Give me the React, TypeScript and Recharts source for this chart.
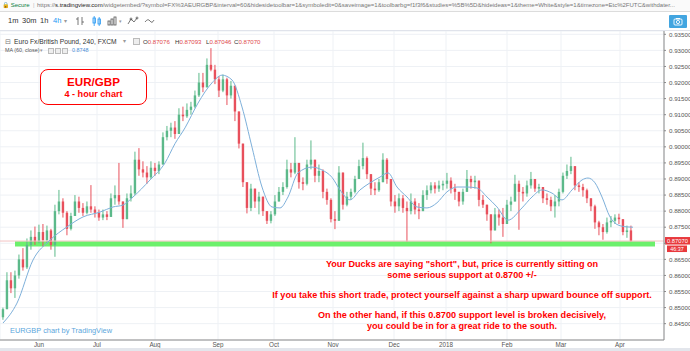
import React from 'react';
import { ComposedChart, Bar, Line, XAxis, YAxis, CartesianGrid, ReferenceArea, ReferenceLine } from 'recharts';

// ---- DATA (read from the reference picture) ----
const firstOpen = 0.847;
const closes = [
  0.8495, 0.8585, 0.856, 0.86, 0.865, 0.8625, 0.8695, 0.872, 0.8705, 0.8735,
  0.871, 0.874, 0.8695, 0.88, 0.883, 0.8795, 0.8745, 0.8785, 0.883, 0.881,
  0.8795, 0.8815, 0.8805, 0.8795, 0.878, 0.879, 0.8782, 0.884, 0.885, 0.883,
  0.8775, 0.884, 0.8855, 0.896, 0.893, 0.892, 0.8905, 0.8935, 0.8925, 0.8945,
  0.903, 0.905, 0.906, 0.904, 0.91, 0.9095, 0.9115, 0.9125, 0.916, 0.92,
  0.9185, 0.9255, 0.924, 0.921, 0.9175, 0.921, 0.916, 0.919, 0.911, 0.901,
  0.889, 0.881, 0.887, 0.883, 0.8845, 0.88, 0.877, 0.879, 0.883, 0.886,
  0.8875, 0.893, 0.892, 0.895, 0.889, 0.8885, 0.8945, 0.896, 0.891, 0.8925,
  0.886, 0.8835, 0.8775, 0.877, 0.892, 0.882, 0.8845, 0.886, 0.89, 0.894,
  0.8965, 0.8915, 0.887, 0.8865, 0.889, 0.896, 0.89, 0.883, 0.8815, 0.884,
  0.881, 0.88, 0.883, 0.8805, 0.88, 0.885, 0.8865, 0.888, 0.887, 0.888,
  0.8885, 0.8895, 0.887, 0.886, 0.883, 0.886, 0.89, 0.889, 0.8895, 0.8835,
  0.882, 0.879, 0.874, 0.879, 0.878, 0.876, 0.882, 0.883, 0.8885, 0.886,
  0.8855, 0.888, 0.89, 0.887, 0.8875, 0.884, 0.8835, 0.8815, 0.883, 0.886,
  0.891, 0.8925, 0.894, 0.888, 0.8875, 0.8865, 0.884, 0.8815, 0.8765, 0.875,
  0.8735, 0.8765, 0.877, 0.878, 0.8775, 0.8735, 0.874, 0.8707,
];
const highs = [
  0.85, 0.861, 0.861, 0.8615, 0.8665, 0.8685, 0.8715, 0.874, 0.8752, 0.8758,
  0.876, 0.8755, 0.8745, 0.882, 0.8866, 0.884, 0.88, 0.8795, 0.885, 0.8845,
  0.8825, 0.883, 0.8881, 0.8815, 0.8805, 0.8805, 0.88, 0.8855, 0.888, 0.895,
  0.883, 0.8855, 0.888, 0.8985, 0.8996, 0.8955, 0.894, 0.8955, 0.895, 0.8955,
  0.9045, 0.9065, 0.9075, 0.908, 0.912, 0.9125, 0.9135, 0.914, 0.9175, 0.923,
  0.923, 0.9275, 0.9307, 0.9255, 0.922, 0.9225, 0.9215, 0.9205, 0.918, 0.907,
  0.901, 0.888, 0.8885, 0.887, 0.886, 0.8845, 0.88, 0.88, 0.885, 0.8875,
  0.889, 0.896, 0.895, 0.903, 0.895, 0.8905, 0.896, 0.902, 0.896, 0.8945,
  0.893, 0.887, 0.884, 0.88, 0.894, 0.8905, 0.886, 0.887, 0.891, 0.896,
  0.9013, 0.897, 0.8905, 0.889, 0.89, 0.898, 0.8965, 0.8895, 0.885, 0.8855,
  0.885, 0.883, 0.8855, 0.884, 0.8825, 0.8865, 0.888, 0.889, 0.889, 0.8895,
  0.8895, 0.8919, 0.8905, 0.8885, 0.886, 0.887, 0.8928, 0.891, 0.891, 0.889,
  0.885, 0.8815, 0.879, 0.881, 0.8805, 0.881, 0.8835, 0.8845, 0.8913, 0.8895,
  0.8875, 0.8895, 0.8922, 0.89, 0.8885, 0.8875, 0.8855, 0.8845, 0.885, 0.887,
  0.892, 0.8945, 0.8969, 0.894, 0.889, 0.8885, 0.887, 0.884, 0.882, 0.877,
  0.876, 0.878, 0.8785, 0.879, 0.8792, 0.8775, 0.8755, 0.8755,
];
const lows = [
  0.8462, 0.8495, 0.8545, 0.853, 0.859, 0.8615, 0.862, 0.868, 0.8695, 0.87,
  0.869, 0.87, 0.868, 0.8658, 0.879, 0.878, 0.8725, 0.874, 0.879, 0.8795,
  0.8785, 0.879, 0.8795, 0.878, 0.877, 0.8772, 0.8772, 0.8785, 0.882, 0.882,
  0.8748, 0.879, 0.883, 0.885, 0.891, 0.8905, 0.8885, 0.89, 0.891, 0.8915,
  0.899, 0.902, 0.903, 0.9025, 0.904, 0.908, 0.909, 0.91, 0.912, 0.9155,
  0.917, 0.92, 0.9235, 0.9195, 0.9155, 0.917, 0.913, 0.915, 0.908, 0.8995,
  0.8875, 0.8793, 0.88, 0.881, 0.879, 0.8785, 0.876, 0.8762, 0.8785, 0.883,
  0.885, 0.887, 0.8905, 0.8915, 0.887, 0.8865, 0.888, 0.893, 0.889, 0.889,
  0.884, 0.882, 0.8765, 0.8744, 0.878, 0.8805, 0.8815, 0.8835, 0.8855, 0.8905,
  0.893, 0.89, 0.885, 0.885, 0.886, 0.889, 0.8885, 0.8815, 0.8795, 0.88,
  0.8795, 0.8705, 0.879, 0.879, 0.8775, 0.88, 0.8835, 0.8855, 0.8855, 0.886,
  0.8865, 0.887, 0.8855, 0.8835, 0.8815, 0.882, 0.886, 0.887, 0.887, 0.8815,
  0.881, 0.877, 0.87, 0.8745, 0.8755, 0.872, 0.876, 0.88, 0.884, 0.8742,
  0.883, 0.8845, 0.887, 0.886, 0.8855, 0.8825, 0.882, 0.88, 0.878, 0.8815,
  0.8855, 0.89, 0.8915, 0.8865, 0.886, 0.8845, 0.8825, 0.88, 0.8745, 0.8725,
  0.8711, 0.873, 0.875, 0.876, 0.876, 0.8725, 0.8717, 0.8705,
];
// MA (60, close) read at sampled bar positions
const maIndex = [
  0, 3.5, 7.5, 11.75, 16, 20, 24.25, 27.5, 30, 32.5, 36.75, 40.5, 43, 45.5, 48.75,
  52.25, 54.75, 57.25, 59.75, 62.25, 64.75, 67.25, 69.25, 71.25, 73.75, 77.25, 79.75,
  82.25, 84.25, 86.75, 89.25, 91.75, 94.25, 96.25, 98.5, 101, 103.5, 106, 108.5, 111,
  113.5, 116, 118.5, 121, 123.5, 126.25, 129.75, 132.25, 134.75, 137.25, 139.75, 142.25,
  144.75, 146.25, 148, 149.75, 151.75, 153.75, 156, 157.5,
];
const maValues = [
  0.8452, 0.8514, 0.8648, 0.871, 0.8751, 0.8782, 0.8797, 0.8813, 0.8819, 0.8844, 0.8897,
  0.895, 0.901, 0.9059, 0.9136, 0.9199, 0.9223, 0.9208, 0.9124, 0.8999, 0.8875, 0.8813,
  0.881, 0.8844, 0.8919, 0.8937, 0.8928, 0.8905, 0.8866, 0.8835, 0.8866, 0.8888, 0.8906,
  0.8919, 0.8875, 0.8844, 0.8813, 0.881, 0.8826, 0.886, 0.8875, 0.8875, 0.8872, 0.8844,
  0.8813, 0.8772, 0.881, 0.8844, 0.8866, 0.8856, 0.8835, 0.8866, 0.8897, 0.8903, 0.8888,
  0.8844, 0.8782, 0.8757, 0.8751, 0.875,
];
const monthTicks = [9, 23.5, 38, 53.75, 67.75, 82.5, 97.75, 110.75, 126, 139.5, 154.25];
const monthLabels = ['Jun', 'Jul', 'Aug', 'Sep', 'Oct', 'Nov', 'Dec', '2018', 'Feb', 'Mar', 'Apr'];
const priceTicks = [0.845, 0.85, 0.855, 0.86, 0.865, 0.87, 0.875, 0.88, 0.885, 0.89, 0.895, 0.9, 0.905, 0.91, 0.915, 0.92, 0.925, 0.93, 0.935];
const supportLow = 0.869;
const supportHigh = 0.8706;
const supportFrom = 3;
const supportTo = 163;
const lastPrice = 0.8707;
const lastPriceLabel = '0.87070';
const countdownLabel = '46:37';
const noteLines1 = ['Your Ducks are saying "short", but, price is currently sitting on', 'some serious support at 0.8700 +/-'];
const noteLine2 = 'If you take this short trade, protect yourself against a sharp upward bounce off support.';
const noteLines3 = ['On the other hand, if this 0.8700 support level is broken decisively,', 'you could be in for a great ride to the south.'];

const candles = closes.map((c, i) => {
  const open = i === 0 ? firstOpen : closes[i - 1];
  const hi = Math.max(highs[i], open, c);
  const lo = Math.min(lows[i], open, c);
  return { i, open, close: c, high: hi, low: lo, range: [lo, hi] };
});
const maData = maIndex.map((i, k) => ({ i, ma: maValues[k] }));

const UP = '#5cb98a';
const DOWN = '#e8505c';
const FONT = '"Liberation Sans", Arial, sans-serif';

function Candle(props: any) {
  const { x, y, width, height, payload } = props;
  if (!payload || x == null) return null;
  const { open, close, high, low } = payload;
  const top = Math.min(y, y + height);
  const h = Math.abs(height);
  const span = high - low || 1e-9;
  const py = (v: number) => top + ((high - v) / span) * h;
  const cx = x + width / 2;
  const color = close >= open ? UP : DOWN;
  const bTop = py(Math.max(open, close));
  const bBot = py(Math.min(open, close));
  return (
    <g>
      <line x1={cx} x2={cx} y1={top} y2={top + h} stroke={color} strokeWidth={1} />
      <rect x={cx - 1.2} y={bTop} width={2.4} height={Math.max(0.8, bBot - bTop)} fill={color} />
    </g>
  );
}

function PriceTag(props: any) {
  const vb = props.viewBox || {};
  const x = (vb.x || 0) + (vb.width || 0) + 1;
  const y = vb.y || 0;
  return (
    <g>
      <rect x={x} y={y - 4} width={25} height={7.5} fill="#e8393d" />
      <text x={x + 12.5} y={y + 1.8} textAnchor="middle" fontSize={5.8} fill="#fff" fontFamily={FONT}>{lastPriceLabel}</text>
      <rect x={x + 2} y={y + 4.5} width={20} height={6.5} fill="#e8393d" />
      <text x={x + 12} y={y + 9.6} textAnchor="middle" fontSize={5.4} fill="#fff" fontFamily={FONT}>{countdownLabel}</text>
    </g>
  );
}

function MonthTick(props: any) {
  const { x, payload } = props;
  const idx = monthTicks.indexOf(payload.value);
  return (
    <text x={x} y={346.5} textAnchor="middle" fontSize={6.3} fill="#555" fontFamily={FONT}>
      {monthLabels[idx]}
    </text>
  );
}

function PriceTick(props: any) {
  const { x, y, payload } = props;
  // the last-price tag covers the label nearest to it, as in the reference
  if (Math.abs(Number(payload.value) - lastPrice) < 0.0015) return <g />;
  return (
    <text x={x + 1} y={y + 2.2} textAnchor="start" fontSize={6.2} fill="#555" fontFamily={FONT}>
      {Number(payload.value).toFixed(5)}
    </text>
  );
}

const abs = (l: number, t: number, extra: any = {}) => ({ position: 'absolute' as const, left: l, top: t, whiteSpace: 'nowrap' as const, ...extra });

export default function App() {
  return (
    <div style={{ position: 'absolute', left: 0, top: 0, width: 690, height: 351, overflow: 'hidden', background: '#fff', fontFamily: FONT }}>
      <ComposedChart
        width={690}
        height={351}
        data={candles}
        margin={{ top: 31, right: 0, bottom: 0, left: 0 }}
        style={{ position: 'absolute', left: 0, top: 0 }}
      >
        <CartesianGrid stroke="#eef1f5" strokeWidth={1} />
        <XAxis
          dataKey="i"
          type="number"
          domain={[-0.75, 165.25]}
          ticks={monthTicks}
          height={11}
          axisLine={{ stroke: '#8a8a8a' }}
          tickLine={false}
          tick={<MonthTick />}
          interval={0}
          allowDataOverflow
        />
        <YAxis
          orientation="right"
          type="number"
          domain={[0.83992, 0.93603]}
          ticks={priceTicks}
          width={26}
          axisLine={{ stroke: '#8a8a8a' }}
          tickLine={{ stroke: '#8a8a8a' }}
          tickSize={2}
          tick={<PriceTick />}
          interval={0}
          allowDataOverflow
        />
        <ReferenceLine y={lastPrice} stroke="#f3c3c3" strokeWidth={1} label={<PriceTag />} />
        <ReferenceArea x1={supportFrom} x2={supportTo} y1={supportLow} y2={supportHigh} fill="#6cf06c" fillOpacity={1} stroke="none" />
        <Bar dataKey="range" barSize={3} shape={<Candle />} isAnimationActive={false} />
        <Line data={maData} dataKey="ma" type="monotone" dot={false} stroke="#7eb0da" strokeWidth={1} isAnimationActive={false} />
      </ComposedChart>

      {/* browser url bar */}
      <div style={abs(0, 0, { width: 690, height: 11, background: '#fafafa', borderBottom: '1px solid #dcdcdc', fontSize: 6, lineHeight: '11px', overflow: 'hidden' })}>
        <span style={abs(2, 0, { color: '#0b8043' })}>&#128274; Secure</span>
        <span style={abs(33, 0, { color: '#bbb' })}>|</span>
        <span style={abs(37, 0, { color: '#777' })}>
          https://<span style={{ color: '#222' }}>s.tradingview.com</span>/widgetembed/?symbol=FX%3AEURGBP&amp;interval=60&amp;hidesidetoolbar=1&amp;symboledit=0&amp;saveimage=1&amp;toolbarbg=f1f3f6&amp;studies=%5B%5D&amp;hideideas=1&amp;theme=White&amp;style=1&amp;timezone=Etc%2FUTC&amp;withdater...
        </span>
      </div>
      {/* toolbar */}
      <div style={abs(0, 12, { width: 690, height: 18, background: '#fff', borderBottom: '1px solid #e0e3eb', fontSize: 7.5, lineHeight: '18px', color: '#333' })}>
        <span style={abs(8, 0)}>1m</span>
        <span style={abs(22, 0)}>30m</span>
        <span style={abs(40, 0)}>1h</span>
        <span style={abs(53, 0, { color: '#2196f3' })}>4h</span>
        <span style={abs(64, 0, { color: '#999', fontSize: 6 })}>&#9662;</span>
        <svg style={abs(75, 4)} width={80} height={10}>
          <g stroke="#555" strokeWidth={0.8} fill="none">
            <line x1={3} y1={1} x2={3} y2={9} />
            <line x1={7} y1={1} x2={7} y2={9} />
            <line x1={1} y1={3} x2={3} y2={3} />
            <line x1={7} y1={6} x2={9} y2={6} />
            <rect x={18} y={2} width={2.5} height={5} stroke="#2196f3" />
            <rect x={23} y={3} width={2.5} height={5} stroke="#2196f3" />
            <line x1={19.2} y1={0} x2={19.2} y2={10} stroke="#2196f3" />
            <line x1={24.2} y1={1} x2={24.2} y2={10} stroke="#2196f3" />
            <rect x={33} y={5} width={2} height={4} />
            <rect x={36} y={3} width={2} height={6} />
            <rect x={39} y={1} width={2} height={8} />
            <path d="M53 8 L56 3 L59 6 L62 2" />
            <circle cx={56} cy={3} r={1} />
            <circle cx={62} cy={2} r={1} />
            <path d="M70 6 Q73 2 75 5 Q77 8 79 4" />
          </g>
          <text x={44} y={7} fontSize={5} fill="#999">&#9662;</text>
        </svg>
        <div style={abs(669, 3, { width: 18, height: 13, background: '#42a5e0', borderRadius: 1 })}>
          <svg width={18} height={13}>
            <rect x={5} y={4} width={8} height={6} fill="none" stroke="#fff" strokeWidth={0.9} rx={1} />
            <circle cx={9} cy={7} r={1.6} fill="none" stroke="#fff" strokeWidth={0.9} />
            <rect x={7} y={3} width={4} height={1.2} fill="#fff" />
          </svg>
        </div>
      </div>

      {/* legend */}
      <div style={abs(0, 37, { fontSize: 6.7, lineHeight: '9px', color: '#333' })}>
        <span style={abs(5, 0, { fontSize: 6.5, color: '#777' })}>&#8863;</span>
        <span style={abs(14, 0)}>Euro Fx/British Pound, 240, FXCM</span>
        <span style={abs(123, 0, { color: '#999', fontSize: 5.5 })}>&#9662;</span>
        <span style={abs(133, 1, { width: 5, height: 5, border: '1px solid #bbb', background: '#eee' })}></span>
      </div>
      <div style={abs(0, 37, { fontSize: 6.1, lineHeight: '9px', color: '#333' })}>
        <span style={abs(143, 0)}>O<span style={{ color: '#e04a4a' }}>0.87076</span></span>
        <span style={abs(175, 0)}>H<span style={{ color: '#e04a4a' }}>0.87093</span></span>
        <span style={abs(206, 0)}>L<span style={{ color: '#e04a4a' }}>0.87046</span></span>
        <span style={abs(234, 0)}>C<span style={{ color: '#e04a4a' }}>0.87070</span></span>
      </div>
      <div style={abs(0, 47, { fontSize: 5.4, lineHeight: '7px', color: '#555' })}>
        <span style={abs(5, 0)}>MA (60, close)</span>
        <span style={abs(40, 0, { color: '#999' })}>&#9662;</span>
        <span style={abs(48, 1, { width: 4, height: 4, border: '1px solid #bbb', background: '#eee' })}></span>
        <span style={abs(55, 1, { width: 4, height: 4, border: '1px solid #bbb', background: '#eee' })}></span>
        <span style={abs(62, 1, { width: 4, height: 4, border: '1px solid #bbb', background: '#eee' })}></span>
        <span style={abs(72, 0, { color: '#4a8fd6' })}>0.8748</span>
      </div>

      {/* title box */}
      <div style={abs(40, 69, { width: 105, height: 34, border: '1px solid #f00', borderRadius: 8, background: '#fff', color: '#f00', fontWeight: 'bold', textAlign: 'center' })}>
        <div style={{ fontSize: 11.6, lineHeight: '13px', marginTop: 5 }}>EUR/GBP</div>
        <div style={{ fontSize: 9.1, lineHeight: '11px', marginTop: 1 }}>4 - hour chart</div>
      </div>

      {/* notes */}
      <div style={abs(262, 259, { width: 400, textAlign: 'center', color: '#f00', fontWeight: 'bold', fontSize: 9.1, lineHeight: '10.7px' })}>
        <div>{noteLines1[0]}</div>
        <div>{noteLines1[1]}</div>
        <div style={{ marginTop: 9.3 }}>{noteLine2}</div>
        <div style={{ marginTop: 10 }}>{noteLines3[0]}</div>
        <div>{noteLines3[1]}</div>
      </div>

      <div style={abs(10, 326, { fontSize: 7.4, color: '#5aa6dc' })}>EURGBP chart by TradingView</div>
      <div style={abs(0, 348, { width: 690, height: 3, background: '#e3e6ec' })}></div>
    </div>
  );
}
